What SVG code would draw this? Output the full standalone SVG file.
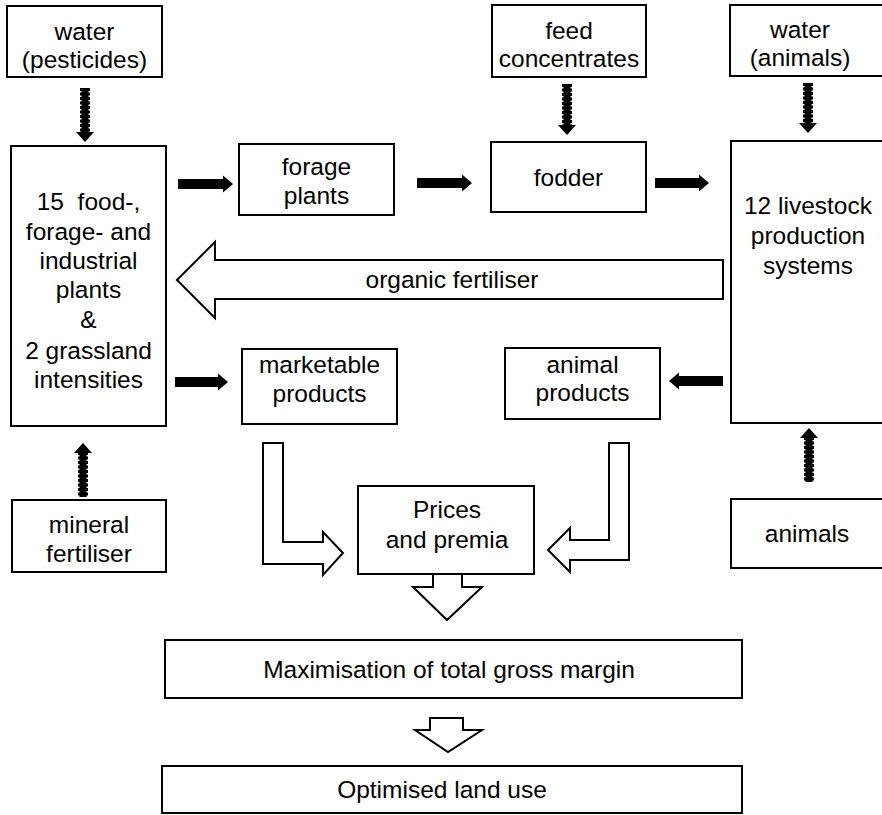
<svg xmlns="http://www.w3.org/2000/svg" width="882" height="815" viewBox="0 0 882 815">
  <style>
    .box { fill: #fff; stroke: #000; stroke-width: 2; }
    .lbl { font-family: "Liberation Sans", Arial, sans-serif; font-size: 24.5px; fill: #000; text-anchor: middle; }
    .pre { white-space: pre; }
    .solid { fill: #000; stroke: none; }
    .hollow { fill: #fff; stroke: #000; stroke-width: 2; stroke-linejoin: miter; }
    .core { stroke: #000; stroke-width: 7; fill: none; }
    .rough { stroke: #000; stroke-width: 10; stroke-dasharray: 3 1.5; fill: none; }
  </style>

  <!-- connectors -->
  <g id="connectors">
    <!-- textured supply arrows (vertical) -->
    <g id="supply-arrows">
      <line class="core" x1="85" y1="88" x2="85" y2="133"/>
      <line class="rough" x1="85" y1="88" x2="85" y2="133"/>
      <polygon class="solid" points="76,132 94,132 85,142"/>

      <line class="core" x1="567" y1="84" x2="567" y2="126"/>
      <line class="rough" x1="567" y1="84" x2="567" y2="126"/>
      <polygon class="solid" points="558,125 576,125 567,135"/>

      <line class="core" x1="808" y1="83" x2="808" y2="124"/>
      <line class="rough" x1="808" y1="83" x2="808" y2="124"/>
      <polygon class="solid" points="799,123 817,123 808,133"/>

      <line class="core" x1="83" y1="452" x2="83" y2="497"/>
      <line class="rough" x1="83" y1="452" x2="83" y2="497"/>
      <polygon class="solid" points="74,453 92,453 83,443"/>

      <line class="core" x1="809" y1="437" x2="809" y2="482"/>
      <line class="rough" x1="809" y1="437" x2="809" y2="482"/>
      <polygon class="solid" points="800,438 818,438 809,428"/>
    </g>

    <!-- thick flow arrows (horizontal) -->
    <g id="flow-arrows">
      <polygon class="solid" points="178,179 223,179 223,175.5 233,184 223,192.5 223,189 178,189"/>
      <polygon class="solid" points="417,178 462,178 462,174.5 472,183 462,191.5 462,188 417,188"/>
      <polygon class="solid" points="655,178 699,178 699,174.5 709,183 699,191.5 699,188 655,188"/>
      <polygon class="solid" points="175,377 218,377 218,373.5 228,382 218,390.5 218,387 175,387"/>
      <polygon class="solid" points="723,376 679,376 679,372.5 669,381 679,389.5 679,386 723,386"/>
    </g>

    <!-- hollow block arrows -->
    <g id="block-arrows">
      <polygon id="organic-arrow" class="hollow" points="177,280 215,242 215,260 723,260 723,299 215,299 215,318"/>
      <polygon class="hollow" points="263,443 283,443 283,542 323,542 323,532 343,553 323,575 323,564 263,564"/>
      <polygon class="hollow" points="629,443 609,443 609,540 570,540 570,528 548,550 570,572 570,560 629,560"/>
      <polygon class="hollow" points="433,574 433,587 413,587 447,620 482,587 462,587 462,574"/>
      <polygon class="hollow" points="430,718 463,718 463,730 482,730 448,752 415,730 430,730"/>
    </g>
    <text class="lbl" x="452" y="288">organic fertiliser</text>
  </g>

  <!-- nodes -->
  <g id="water-pesticides">
    <rect class="box" x="7" y="6" width="155" height="71"/>
    <text class="lbl" x="84.5" y="40">water</text>
    <text class="lbl" x="84.5" y="68">(pesticides)</text>
  </g>

  <g id="feed-concentrates">
    <rect class="box" x="492" y="5" width="154" height="72"/>
    <text class="lbl" x="569" y="39">feed</text>
    <text class="lbl" x="569" y="67">concentrates</text>
  </g>

  <g id="water-animals">
    <rect class="box" x="730" y="5" width="160" height="71"/>
    <text class="lbl" x="800" y="38">water</text>
    <text class="lbl" x="800" y="66">(animals)</text>
  </g>

  <g id="plants">
    <rect class="box" x="11" y="146" width="155" height="280"/>
    <text class="lbl pre" x="88.5" y="210">15  food-,</text>
    <text class="lbl" x="88.5" y="240">forage- and</text>
    <text class="lbl" x="88.5" y="269">industrial</text>
    <text class="lbl" x="88.5" y="298">plants</text>
    <text class="lbl" x="88.5" y="328">&amp;</text>
    <text class="lbl" x="88.5" y="359">2 grassland</text>
    <text class="lbl" x="88.5" y="388">intensities</text>
  </g>

  <g id="forage-plants">
    <rect class="box" x="239" y="144" width="155" height="71"/>
    <text class="lbl" x="316.5" y="175">forage</text>
    <text class="lbl" x="316.5" y="204">plants</text>
  </g>

  <g id="fodder">
    <rect class="box" x="491" y="142" width="155" height="70"/>
    <text class="lbl" x="568.5" y="186">fodder</text>
  </g>

  <g id="livestock">
    <rect class="box" x="731" y="141" width="160" height="282"/>
    <text class="lbl" x="808" y="214">12 livestock</text>
    <text class="lbl" x="808" y="244">production</text>
    <text class="lbl" x="808" y="274">systems</text>
  </g>

  <g id="marketable-products">
    <rect class="box" x="242" y="349" width="155" height="75"/>
    <text class="lbl" x="319.5" y="373">marketable</text>
    <text class="lbl" x="319.5" y="402">products</text>
  </g>

  <g id="animal-products">
    <rect class="box" x="505" y="348" width="155" height="71"/>
    <text class="lbl" x="582.5" y="373">animal</text>
    <text class="lbl" x="582.5" y="401">products</text>
  </g>

  <g id="mineral-fertiliser">
    <rect class="box" x="12" y="500" width="154" height="72"/>
    <text class="lbl" x="89" y="533">mineral</text>
    <text class="lbl" x="89" y="562">fertiliser</text>
  </g>

  <g id="prices">
    <rect class="box" x="358" y="486" width="176" height="88"/>
    <text class="lbl" x="447" y="518">Prices</text>
    <text class="lbl" x="447" y="548">and premia</text>
  </g>

  <g id="animals">
    <rect class="box" x="731" y="499" width="160" height="69"/>
    <text class="lbl" x="807" y="542">animals</text>
  </g>

  <g id="maximisation">
    <rect class="box" x="165" y="640" width="577" height="58"/>
    <text class="lbl" x="449" y="678">Maximisation of total gross margin</text>
  </g>

  <g id="optimised-land-use">
    <rect class="box" x="162" y="766" width="580" height="47"/>
    <text class="lbl" x="442" y="798">Optimised land use</text>
  </g>
</svg>
